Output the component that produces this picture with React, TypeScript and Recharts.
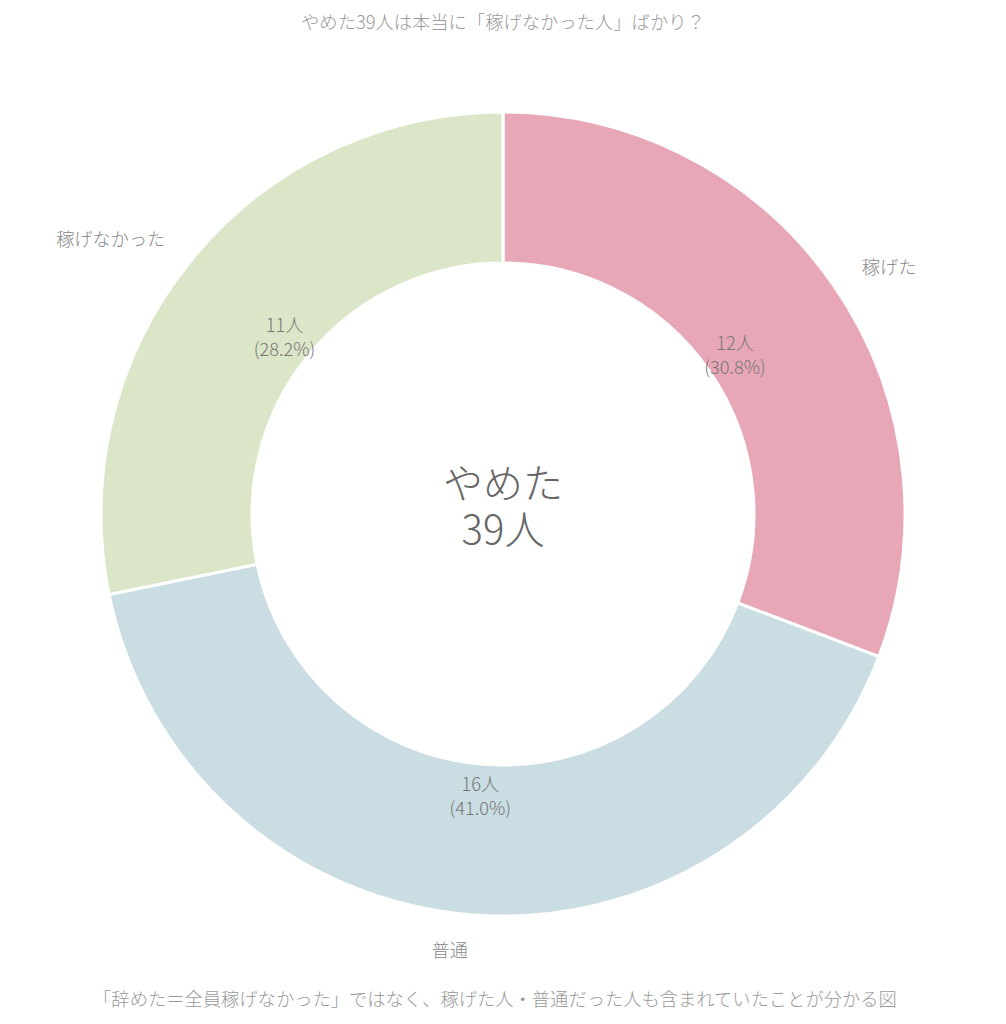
import React from 'react';
import { PieChart, Pie, Cell } from 'recharts';

const categories = ['稼げた', '普通', '稼げなかった'];
const counts = [12, 16, 11];
const colors = ['#e8a7b7', '#c9dde3', '#dbe6c8'];
const titleText = 'やめた39人は本当に「稼げなかった人」ばかり？';
const footerText = '「辞めた＝全員稼げなかった」ではなく、稼げた人・普通だった人も含まれていたことが分かる図';
const centerLines = ['やめた', '39人'];

const total = counts.reduce((a, b) => a + b, 0);
const data = categories.map((name, i) => ({ name, value: counts[i] }));

const FONT = '"Noto Sans CJK JP", "Noto Sans", sans-serif';
const RAD = Math.PI / 180;

const W = 990;
const H = 1008;
const CX = 490;
const CY = 501;
const OUTER = 402;
const INNER = 251;

const renderLabel = (props: any) => {
  const { cx, cy, midAngle, index, value } = props;
  const cos = Math.cos(-midAngle * RAD);
  const sin = Math.sin(-midAngle * RAD);
  const rIn = 282;
  const rOut = 436;
  const ix = cx + rIn * cos;
  const iy = cy + rIn * sin;
  const ox = cx + rOut * cos;
  const oy = cy + rOut * sin;
  const anchor = cos >= 0 ? 'start' : 'end';
  const pct = ((value / total) * 100).toFixed(1);
  return (
    <g key={`lbl-${index}`}>
      <text x={ox} y={oy} textAnchor={anchor} dominantBaseline="central" fill="#888" fontSize={18.2} fontWeight={300} fontFamily={FONT}>
        {categories[index]}
      </text>
      <text x={ix} y={iy - 12} textAnchor="middle" dominantBaseline="central" fill="#777" fontSize={18.2} fontWeight={300} fontFamily={FONT}>
        {`${value}人`}
      </text>
      <text x={ix} y={iy + 12} textAnchor="middle" dominantBaseline="central" fill="#777" fontSize={18.2} fontWeight={300} fontFamily={FONT}>
        {`(${pct}%)`}
      </text>
    </g>
  );
};

export default function App() {
  return (
    <div style={{ position: 'relative', width: W, height: H, fontFamily: FONT }}>
      <PieChart width={W} height={H}>
        <Pie
          data={data}
          dataKey="value"
          nameKey="name"
          cx={CX}
          cy={CY}
          innerRadius={INNER}
          outerRadius={OUTER}
          startAngle={90}
          endAngle={-270}
          stroke="#ffffff"
          strokeWidth={3}
          label={renderLabel}
          labelLine={false}
          isAnimationActive={false}
        >
          {data.map((d, i) => (
            <Cell key={d.name} fill={colors[i]} />
          ))}
        </Pie>
      </PieChart>
      <div style={{ position: 'absolute', left: 0, top: 0, width: W, textAlign: 'center', pointerEvents: 'none' }}>
        <div style={{ position: 'absolute', left: 0, width: W, top: 1, lineHeight: '24px', fontSize: 18.3, fontWeight: 300, color: '#999' }}>
          {titleText}
        </div>
        <div style={{ position: 'absolute', left: 0, width: W, top: 450, lineHeight: '46px', fontSize: 40, fontWeight: 300, color: '#666' }}>
          {centerLines.map((l) => (
            <div key={l}>{l}</div>
          ))}
        </div>
        <div style={{ position: 'absolute', left: -8, width: W, top: 978, lineHeight: '24px', fontSize: 18.3, fontWeight: 300, color: '#999' }}>
          {footerText}
        </div>
      </div>
    </div>
  );
}
